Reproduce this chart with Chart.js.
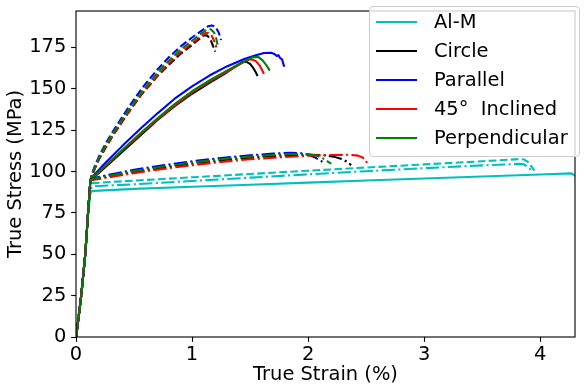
<!DOCTYPE html>
<html><head><meta charset="utf-8">
<script src="https://cdn.jsdelivr.net/npm/chart.js@4.4.1/dist/chart.umd.min.js"></script>
<style>
html,body{margin:0;padding:0;background:#fff;}
#wrap{position:relative;width:586px;height:392px;overflow:hidden;}
#c{position:absolute;left:0;top:0;}
#legend{position:absolute;left:369px;top:6px;width:211px;height:151px;box-sizing:border-box;border:1px solid #cccccc;border-radius:4px;background:rgba(255,255,255,0.8);}
.lh{position:absolute;height:2px;width:41px;left:376px;}
.lt{position:absolute;left:434px;height:28px;line-height:28px;font-family:'DejaVu Sans';font-size:19.44px;color:#000;white-space:pre;}
</style></head>
<body>
<div id="wrap"><canvas id="c" width="586" height="392"></canvas><div id="legend"></div></div>
<script>
// ---- data (True Strain %, True Stress MPa) ----
const seriesNames = ['Al-M', 'Circle', 'Parallel', '45°  Inclined', 'Perpendicular'];
const seriesColors = ['#00bfbf', '#000000', '#0000ff', '#ff0000', '#008000'];
const xTicks = [0, 1, 2, 3, 4];
const yTicks = [0, 25, 50, 75, 100, 125, 150, 175];

// solid curves
const almSolid = [[0,0],[0.012,6],[0.045,25],[0.08,50],[0.104,75],[0.122,86],[0.13,88],[0.16,88.3],[0.5,89.5],[1,90.8],[1.5,92],[2,93.3],[2.5,94.6],[3,95.8],[3.5,97],[4,98.2],[4.27,98.9],[4.34,95.5]];
const circleSolid = [[0,0],[0.012,6],[0.045,25],[0.08,50],[0.104,75],[0.122,92],[0.13,95],[0.25,102.5],[0.4,112],[0.55,121.5],[0.7,131],[0.85,139.5],[1.0,147],[1.15,153.5],[1.28,159],[1.38,163.8],[1.43,166],[1.47,166.3],[1.5,165],[1.53,162.3],[1.55,159.8],[1.565,157.7]];
const parallelSolid = [[0,0],[0.012,6],[0.045,25],[0.08,50],[0.104,75],[0.122,93],[0.13,96],[0.25,105],[0.4,115.5],[0.55,125.5],[0.7,135],[0.85,144],[1.0,151.5],[1.15,158],[1.3,163.5],[1.45,168],[1.55,170.3],[1.62,171.6],[1.68,171.8],[1.71,171],[1.73,169.8],[1.745,170.3],[1.76,168.5],[1.775,167.8],[1.785,165.5],[1.795,163.3]];
const inclinedSolid = [[0,0],[0.012,6],[0.045,25],[0.08,50],[0.104,75],[0.122,92.5],[0.13,95.5],[0.25,103],[0.4,112.8],[0.55,122.3],[0.7,131.5],[0.85,140],[1.0,147.8],[1.15,154.3],[1.3,160.2],[1.4,164.3],[1.47,167.3],[1.51,167.8],[1.55,166.7],[1.58,164.3],[1.6,161.8],[1.62,159]];
const perpSolid = [[0,0],[0.012,6],[0.045,25],[0.08,50],[0.104,75],[0.122,92.5],[0.13,95.5],[0.25,103.3],[0.4,113.2],[0.55,122.8],[0.7,132],[0.85,140.8],[1.0,148.5],[1.15,155],[1.3,161],[1.45,166.5],[1.52,169],[1.57,169.3],[1.61,167],[1.64,164.3],[1.67,161]];

// dashed curves
const almDashed = [[0,0],[0.012,6],[0.045,25],[0.08,50],[0.104,75],[0.124,90],[0.14,93],[0.5,94.5],[1,96.5],[1.5,98.5],[2,100.5],[2.5,102.4],[3,104.3],[3.5,106.2],[3.82,107.5],[3.86,107.3],[3.9,105.5],[3.95,100.5]];
const circleDashed = [[0,0],[0.012,6],[0.045,25],[0.08,50],[0.104,75],[0.122,92],[0.13,96],[0.16,101.5],[0.2,107.5],[0.26,115],[0.33,123],[0.45,135.5],[0.57,147],[0.7,157.5],[0.8,164.5],[0.9,171],[1.0,176.5],[1.06,180],[1.1,182.2],[1.13,182.3],[1.16,179.5],[1.18,176],[1.2,172.5]];
const parallelDashed = [[0,0],[0.012,6],[0.045,25],[0.08,50],[0.104,75],[0.122,93],[0.13,97],[0.16,103],[0.2,109.5],[0.26,117.5],[0.33,125.5],[0.45,138.5],[0.57,150.5],[0.7,161.5],[0.8,169],[0.9,175.5],[1.0,181],[1.08,185],[1.14,187.8],[1.17,188.3],[1.2,187.5],[1.23,184],[1.25,179.5]];
const inclinedDashed = [[0,0],[0.012,6],[0.045,25],[0.08,50],[0.104,75],[0.122,92],[0.13,96],[0.16,101.5],[0.2,108],[0.26,115.5],[0.33,123.5],[0.45,136],[0.57,147.5],[0.7,158],[0.8,165.5],[0.9,172],[1.0,177.5],[1.07,181.5],[1.11,183.5],[1.14,183.8],[1.17,182],[1.19,179],[1.21,175]];
const perpDashed = [[0,0],[0.012,6],[0.045,25],[0.08,50],[0.104,75],[0.122,92.5],[0.13,96.5],[0.16,102],[0.2,108.5],[0.26,116.5],[0.33,124.5],[0.45,137],[0.57,148.5],[0.7,159.5],[0.8,167],[0.9,173.5],[1.0,179],[1.08,183.5],[1.13,185.8],[1.16,186],[1.19,184],[1.21,180],[1.22,176.5]];

// dash-dot curves
const almDashDot = [[0,0],[0.012,6],[0.045,25],[0.08,50],[0.104,75],[0.124,89],[0.14,91],[0.5,92.3],[1,94.3],[1.5,96.3],[2,98.3],[2.5,100.2],[3,102],[3.5,103.7],[3.82,104.6],[3.86,104.3],[3.9,102.5],[3.93,100]];
const circleDashDot = [[0,0],[0.012,6],[0.045,25],[0.08,50],[0.104,75],[0.122,92],[0.13,95],[0.2,96],[0.35,98],[0.5,99.8],[0.75,102.5],[1.0,104.8],[1.25,106.8],[1.5,108.4],[1.75,109.5],[2.0,110.1],[2.12,110],[2.22,109],[2.3,107.3],[2.35,105.3],[2.37,103.8]];
const parallelDashDot = [[0,0],[0.012,6],[0.045,25],[0.08,50],[0.104,75],[0.122,92.5],[0.13,95.5],[0.2,96.8],[0.35,99],[0.5,101],[0.75,103.8],[1.0,106.2],[1.25,108.2],[1.5,109.8],[1.7,110.8],[1.85,111.3],[1.93,111.2],[2.0,110.2],[2.06,108.5],[2.11,106.5],[2.13,105.5]];
const inclinedDashDot = [[0,0],[0.012,6],[0.045,25],[0.08,50],[0.104,75],[0.122,92],[0.13,94.8],[0.2,95.5],[0.35,97.3],[0.5,99],[0.75,101.6],[1.0,103.8],[1.25,105.8],[1.5,107.4],[1.75,108.6],[2.0,109.5],[2.2,110],[2.35,110.1],[2.43,109.6],[2.47,108.5],[2.5,106.5],[2.51,104.2]];
const perpDashDot = [[0,0],[0.012,6],[0.045,25],[0.08,50],[0.104,75],[0.122,92.2],[0.13,95.2],[0.2,96.3],[0.35,98.3],[0.5,100.3],[0.75,103],[1.0,105.4],[1.25,107.4],[1.5,109],[1.75,110.2],[1.9,110.7],[2.0,110.5],[2.08,109.5],[2.14,107.5],[2.18,105.5],[2.2,104.8]];

const solidCurves = [almSolid, circleSolid, parallelSolid, inclinedSolid, perpSolid];
const dashedCurves = [almDashed, circleDashed, parallelDashed, inclinedDashed, perpDashed];
const dashDotCurves = [almDashDot, circleDashDot, parallelDashDot, inclinedDashDot, perpDashDot];

// ---- build ----
const DPI = 100/72;
const LW = 1.5*DPI;
const styles = [
  {curves: solidCurves, dash: []},
  {curves: dashedCurves, dash: [3.7*LW, 1.6*LW]},
  {curves: dashDotCurves, dash: [6.4*LW, 1.6*LW, 1*LW, 1.6*LW]}
];
const datasets = [];
let k = 0;
styles.forEach((st, si) => {
  st.curves.forEach((pts, i) => {
    datasets.push({
      label: seriesNames[i] + (si ? '_' + si : ''),
      data: pts.map(p => ({x: p[0], y: p[1]})),
      borderColor: seriesColors[i],
      backgroundColor: seriesColors[i],
      borderWidth: LW,
      borderDash: st.dash,
      borderJoinStyle: 'round',
      pointRadius: 0,
      pointHoverRadius: 0,
      fill: false,
      tension: 0,
      clip: 0,
      order: 100 - k
    });
    k++;
  });
});

Chart.defaults.font.family = "'DejaVu Sans'";
Chart.defaults.font.size = 19.44;
Chart.defaults.color = '#000';

const frame = {
  id: 'frame',
  afterDatasetsDraw(chart) {
    const a = chart.chartArea, ctx = chart.ctx;
    ctx.save();
    ctx.strokeStyle = '#000';
    ctx.lineWidth = 0.8*DPI;
    ctx.strokeRect(a.left, a.top, a.right - a.left, a.bottom - a.top);
    ctx.restore();
  }
};

const TL = 3.5*DPI;
new Chart(document.getElementById('c'), {
  type: 'line',
  data: {datasets},
  options: {
    responsive: false,
    animation: false,
    devicePixelRatio: 1,
    layout: {padding: {top: 11, right: 11, left: 0, bottom: 0}, autoPadding: false},
    plugins: {legend: {display: false}, tooltip: {enabled: false}},
    scales: {
      x: {
        type: 'linear', min: 0, max: 4.3,
        afterBuildTicks: s => { s.ticks = xTicks.map(v => ({value: v})); },
        afterFit: s => { s.height = 55; s.paddingLeft = 0; s.paddingRight = 0; },
        ticks: {padding: 1, includeBounds: false, maxRotation: 0, autoSkip: false},
        grid: {drawOnChartArea: false, drawTicks: true, tickLength: TL, color: '#000', tickWidth: 0.8*DPI},
        border: {display: false},
        title: {display: true, text: 'True Strain (%)', padding: {top: 0, bottom: 5.3}}
      },
      y: {
        type: 'linear', min: 0, max: 197,
        afterBuildTicks: s => { s.ticks = yTicks.map(v => ({value: v})); },
        afterFit: s => { s.width = 76; s.paddingTop = 0; s.paddingBottom = 0; },
        ticks: {padding: TL, includeBounds: false, autoSkip: false},
        grid: {drawOnChartArea: false, drawTicks: true, tickLength: TL, color: '#000', tickWidth: 0.8*DPI},
        border: {display: false},
        title: {display: true, text: 'True Stress (MPa)', padding: {top: 4.3, bottom: 0}}
      }
    }
  },
  plugins: [frame]
});

// legend (solid series)
const wrap = document.getElementById('wrap');
const rowY = [22.3, 51, 80, 109, 137.7];
seriesNames.forEach((n, i) => {
  const h = document.createElement('div');
  h.className = 'lh';
  h.style.top = (rowY[i] - 1) + 'px';
  h.style.background = seriesColors[i];
  wrap.appendChild(h);
  const t = document.createElement('div');
  t.className = 'lt';
  t.style.top = (rowY[i] - 14) + 'px';
  t.textContent = n;
  wrap.appendChild(t);
});
</script>
</body></html>
